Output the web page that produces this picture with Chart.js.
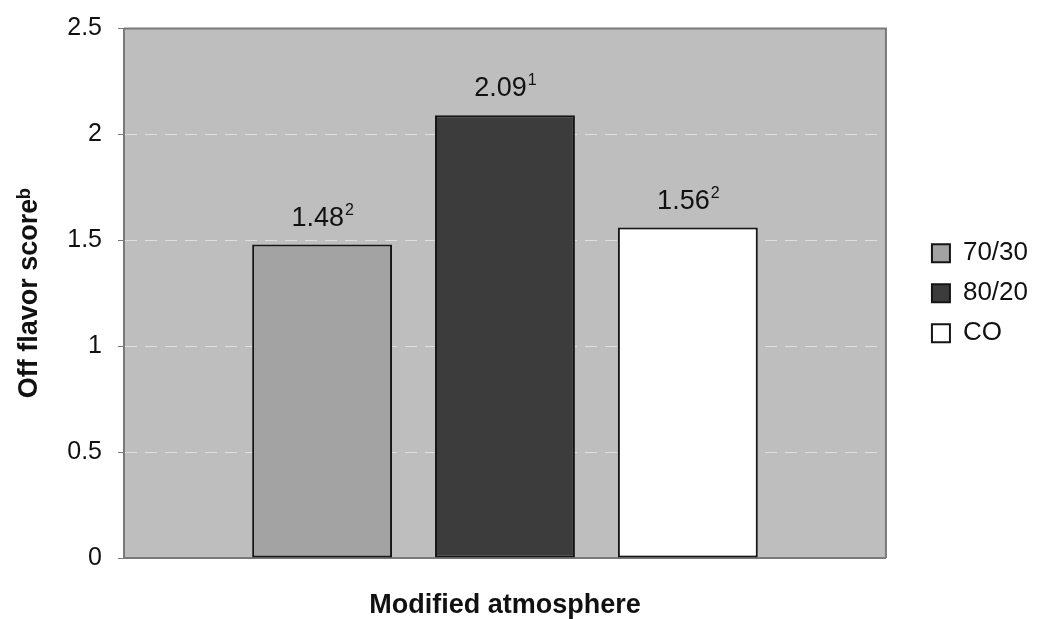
<!DOCTYPE html>
<html>
<head>
<meta charset="utf-8">
<title>Off flavor score</title>
<script src="https://cdn.jsdelivr.net/npm/chart.js@4/dist/chart.umd.min.js"></script>
<style>
  body { margin: 0; background: #fff; }
  #wrap { width: 1038px; height: 619px; }
</style>
</head>
<body>
<div id="wrap"><canvas id="offFlavor" width="1038" height="619"></canvas></div>
<script>
// atmospheres and their mean off flavor scores
var seriesNames = ["70/30", "80/20", "CO"];
var scores = [1.48, 2.09, 1.56];
var sigGroups = ["2", "1", "2"];
var barColors = ["#a3a3a3", "#3c3c3c", "#ffffff"];
var yTicks = [0, 0.5, 1, 1.5, 2, 2.5];
var yTickLabels = ["0", "0.5", "1", "1.5", "2", "2.5"];

var fontFamily = "'Liberation Sans', Arial, sans-serif";

// grey plot area with a thin frame
var plotFrame = {
  id: "plotFrame",
  beforeDraw: function (chart) {
    var a = chart.chartArea, ctx = chart.ctx;
    ctx.save();
    ctx.fillStyle = "#bebebe";
    ctx.fillRect(a.left, a.top, a.right - a.left, a.bottom - a.top);
    ctx.restore();
  },
  afterDatasetsDraw: function (chart) {
    var a = chart.chartArea, ctx = chart.ctx;
    ctx.save();
    ctx.strokeStyle = "#7a7a7a";
    ctx.lineWidth = 2;
    ctx.beginPath();
    ctx.moveTo(a.left, a.top);
    ctx.lineTo(a.right, a.top);
    ctx.lineTo(a.right, a.bottom);
    ctx.stroke();
    ctx.restore();
  }
};

// value on top of each bar with its significance group as superscript
var valueLabels = {
  id: "valueLabels",
  afterDatasetsDraw: function (chart) {
    var ctx = chart.ctx;
    ctx.save();
    ctx.fillStyle = "#111";
    ctx.textBaseline = "alphabetic";
    ctx.textAlign = "left";
    chart.data.datasets.forEach(function (ds, i) {
      var bar = chart.getDatasetMeta(i).data[0];
      var main = scores[i].toFixed(2);
      var sup = sigGroups[i];
      ctx.font = "27px " + fontFamily;
      var w1 = ctx.measureText(main).width;
      ctx.font = "16px " + fontFamily;
      var w2 = ctx.measureText(sup).width;
      var x0 = bar.x - (w1 + w2) / 2;
      var base = bar.y - 19;
      ctx.font = "27px " + fontFamily;
      ctx.fillText(main, x0, base);
      ctx.font = "16px " + fontFamily;
      ctx.fillText(sup, x0 + w1 + 1, base - 11);
    });
    ctx.restore();
  }
};

var datasets = seriesNames.map(function (name, i) {
  return {
    label: name,
    data: [scores[i]],
    backgroundColor: barColors[i],
    borderColor: "#151515",
    borderWidth: 2,
    borderSkipped: false,
    categoryPercentage: 0.72,
    barPercentage: 0.765
  };
});

new Chart("offFlavor", {
  type: "bar",
  data: { labels: [""], datasets: datasets },
  plugins: [plotFrame, valueLabels],
  options: {
    responsive: false,
    animation: false,
    layout: { padding: { top: 28, right: 0, bottom: 0, left: 0 } },
    plugins: {
      tooltip: { enabled: false },
      legend: {
        position: "right",
        fullSize: false,
        labels: {
          boxWidth: 18,
          boxHeight: 18,
          padding: 14,
          color: "#111",
          font: { family: fontFamily, size: 26 }
        }
      }
    },
    scales: {
      x: {
        grid: { display: false },
        ticks: { display: false },
        border: { color: "#7a7a7a", width: 2 },
        title: {
          display: true,
          text: "Modified atmosphere",
          color: "#111",
          font: { family: fontFamily, size: 27, weight: "bold", lineHeight: 1 },
          padding: { top: 0, bottom: 0 }
        },
        afterFit: function (scale) { scale.height = 61; }
      },
      y: {
        min: 0,
        max: 2.5,
        afterBuildTicks: function (scale) {
          scale.ticks = yTicks.map(function (v) { return { value: v }; });
        },
        ticks: {
          padding: 16,
          color: "#111",
          font: { family: fontFamily, size: 25, lineHeight: 1 },
          callback: function (value, index) { return yTickLabels[index]; }
        },
        grid: {
          color: "rgba(255,255,255,0.5)",
          tickColor: "#7a7a7a",
          tickBorderDash: [],
          tickLength: 6,
          lineWidth: 1
        },
        border: { color: "#7a7a7a", width: 2, dash: [12, 8] },
        title: {
          display: true,
          text: "Off flavor score\u1d47",
          color: "#111",
          font: { family: fontFamily, size: 27, weight: "bold" },
          padding: { top: 13, bottom: 0 }
        },
        afterFit: function (scale) { scale.width = 124; }
      },
      // spacer between the plot and the legend
      gap: {
        type: "linear",
        position: "right",
        grid: { display: false, drawTicks: false },
        ticks: { display: false },
        border: { display: false },
        afterFit: function (scale) { scale.width = 32; }
      }
    }
  }
});
</script>
</body>
</html>
